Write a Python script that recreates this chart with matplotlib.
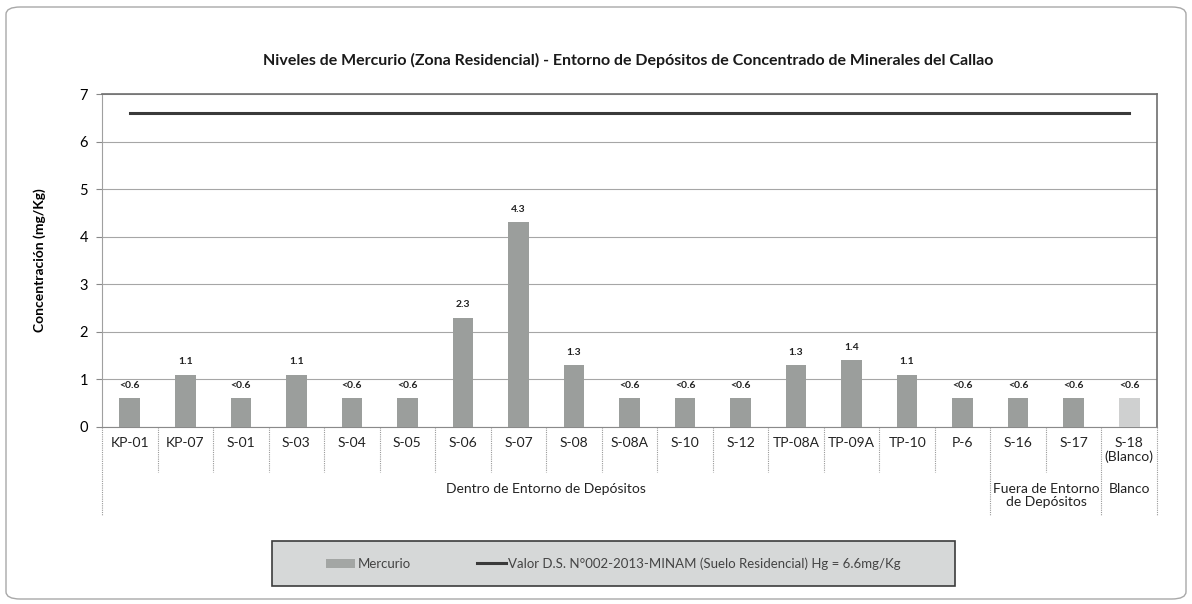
import numpy as np
import matplotlib.pyplot as plt
from matplotlib.patches import FancyBboxPatch, Rectangle, Patch
from matplotlib.lines import Line2D
import matplotlib.transforms as mtransforms

plt.rcParams['font.family'] = ['Lato', 'DejaVu Sans']

# data
stations = ['KP-01', 'KP-07', 'S-01', 'S-03', 'S-04', 'S-05', 'S-06', 'S-07', 'S-08',
            'S-08A', 'S-10', 'S-12', 'TP-08A', 'TP-09A', 'TP-10', 'P-6', 'S-16', 'S-17',
            'S-18\n(Blanco)']
mercurio = [0.6, 1.1, 0.6, 1.1, 0.6, 0.6, 2.3, 4.3, 1.3,
            0.6, 0.6, 0.6, 1.3, 1.4, 1.1, 0.6, 0.6, 0.6, 0.6]
bar_labels = ['<0.6', '1.1', '<0.6', '1.1', '<0.6', '<0.6', '2.3', '4.3', '1.3',
              '<0.6', '<0.6', '<0.6', '1.3', '1.4', '1.1', '<0.6', '<0.6', '<0.6', '<0.6']
limite = 6.6
groups = ['Dentro de Entorno de Depósitos', 'Fuera de Entorno\nde Depósitos', 'Blanco']
group_sizes = [16, 2, 1]

W, H = 1192, 604
fig = plt.figure(figsize=(W / 100, H / 100), dpi=100)
fig.patch.set_facecolor('white')

# outer chart frame
frame = FancyBboxPatch((6 / W, 5 / H), (W - 12) / W, (H - 12) / H,
                       boxstyle='round,pad=0,rounding_size=0.012',
                       transform=fig.transFigure, fill=False,
                       edgecolor='#a8a8a8', linewidth=1.0)
fig.patches.append(frame)

x0, x1, y0, y1 = 102, 1157, 94, 427
ax = fig.add_axes([x0 / W, 1 - y1 / H, (x1 - x0) / W, (y1 - y0) / H])

x = np.arange(len(stations))
colors = ['#9b9e9c'] * (len(stations) - 1) + ['#cfd0d0']
ax.bar(x, mercurio, width=0.37, color=colors, zorder=3)
for xi, v, lab in zip(x, mercurio, bar_labels):
    ax.annotate(lab, (xi, v), xytext=(0, 6), textcoords='offset points',
                ha='center', va='bottom', fontsize=7.5, fontweight='bold', color='#222222')

ax.plot(x, [limite] * len(x), color='#3a3a3a', lw=2.2, zorder=4)

ax.set_xlim(-0.5, len(stations) - 0.5)
ax.set_ylim(0, 7)
ax.set_yticks(range(8))
ax.tick_params(axis='y', labelsize=10.5, length=4, color='#888888', pad=6)
ax.set_xticks([])
ax.yaxis.grid(True, color='#a6a6a6', lw=0.8, zorder=0)
ax.set_axisbelow(True)
for s in ['top', 'right']:
    ax.spines[s].set_color('#6e6e6e')
    ax.spines[s].set_linewidth(1.2)
ax.spines['left'].set_color('#a0a0a0')
ax.spines['left'].set_linewidth(0.8)
ax.spines['bottom'].set_color('#8a8a8a')
ax.spines['bottom'].set_linewidth(0.8)

ax.set_ylabel('Concentración (mg/Kg)', fontsize=10, fontweight='bold', labelpad=24)

# hierarchical category axis
trans = mtransforms.blended_transform_factory(ax.transData, ax.transAxes)
ph = y1 - y0
short_y = -(472 - y1) / ph
long_y = -(515 - y1) / ph
bounds = np.cumsum([0] + group_sizes) - 0.5
for b in np.arange(-0.5, len(stations)):
    bottom = long_y if b in bounds else short_y
    ax.plot([b, b], [0, bottom], transform=trans, clip_on=False,
            color='#9a9a9a', lw=0.8, ls=(0, (1, 1)))
for xi, name in zip(x, stations):
    ax.text(xi, -(437 - y1) / ph, name, transform=trans, ha='center', va='top',
            fontsize=10, color='#222222', linespacing=1.1)
for g, lo, hi in zip(groups, bounds[:-1], bounds[1:]):
    ax.text((lo + hi) / 2, -(483 - y1) / ph, g, transform=trans, ha='center', va='top',
            fontsize=10, color='#222222', linespacing=1.1)

fig.text(628 / W, 1 - 60 / H,
         'Niveles de Mercurio (Zona Residencial) - Entorno de Depósitos de Concentrado de Minerales del Callao',
         ha='center', va='center', fontsize=11.5, fontweight='bold', color='#1a1a1a')

# legend box
lx0, lx1, ly0, ly1 = 272, 955, 541, 586
fig.patches.append(Rectangle((lx0 / W, 1 - ly1 / H), (lx1 - lx0) / W, (ly1 - ly0) / H,
                             transform=fig.transFigure, facecolor='#d6d8d8',
                             edgecolor='#3c3c3c', linewidth=1.2))
handles = [Patch(facecolor='#a3a6a4'),
           Line2D([], [], color='#3a3a3a', lw=2.2)]
fig.legend(handles, ['Mercurio', 'Valor D.S. N°002-2013-MINAM (Suelo Residencial) Hg = 6.6mg/Kg'],
           loc='center', bbox_to_anchor=((lx0 + lx1) / 2 / W, 1 - (ly0 + ly1) / 2 / H),
           ncol=2, frameon=False, fontsize=9.5, columnspacing=5.0, handlelength=2.2,
           handletextpad=0.2, labelcolor='#444444')

fig.savefig('out.png', dpi=100)
